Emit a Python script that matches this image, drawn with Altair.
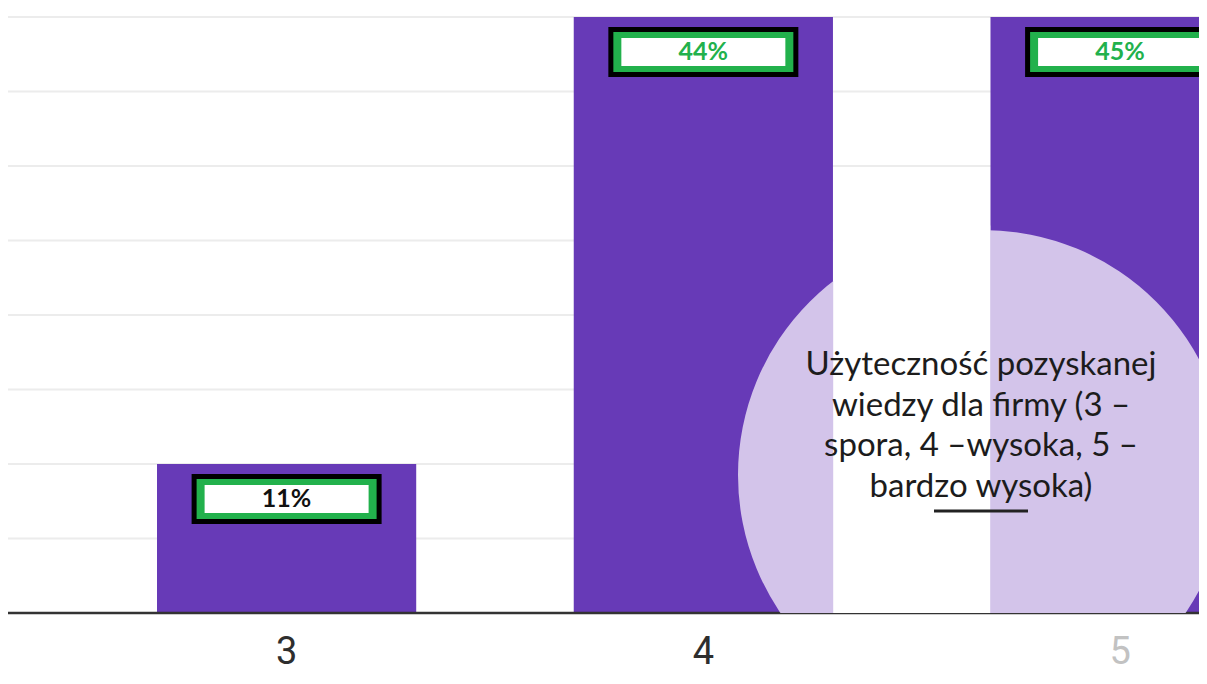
import altair as alt
import pandas as pd

# ---- data ----
ratings = ["3", "4", "5"]
counts = [1, 4, 4]            # bar heights (responses); 1 unit = 2 gridlines
labels = ["11%", "44%", "45%"]
grid_values = [0.5, 1, 1.5, 2, 2.5, 3, 3.5, 4]
title_lines = [
    "Użyteczność pozyskanej",
    "wiedzy dla firmy (3 –",
    "spora, 4 –wysoka, 5 –",
    "bardzo wysoka)",
]

df = pd.DataFrame({"rating": ratings, "count": counts, "label": labels})
grid_df = pd.DataFrame({"g": grid_values})
one = pd.DataFrame({"a": [0]})

W, H = 1191, 605
PURPLE = "#673ab7"
LAVENDER = "#d3c4ea"
GREEN = "#22b14c"

xscale = alt.Scale(domain=ratings, range=[149, 1241.7], paddingInner=0.378, paddingOuter=0,
                   round=False)
yscale = alt.Scale(domain=[0, 4.06], nice=False, zero=True)

x_enc = alt.X("rating:N", scale=xscale, title=None,
              axis=alt.Axis(domain=False, ticks=False, tickSize=0, labelPadding=50,
                            labelBaseline="alphabetic", labelFont="Roboto", labelFontSize=38,
                            labelAngle=0,
                            labelColor=alt.expr("datum.value == '5' ? '#c2c2c2' : '#2e2e2e'")))
y_enc = alt.Y("count:Q", scale=yscale, title=None, axis=None)

grid = alt.Chart(grid_df).mark_rule(color="#ececec", strokeWidth=2).encode(
    y=alt.Y("g:Q", scale=yscale, axis=None), x=alt.value(0), x2=alt.value(W))

bars = alt.Chart(df).mark_bar(color=PURPLE, clip=True).encode(x=x_enc, y=y_enc)

box_black = alt.Chart(df).mark_bar(color="#000000", width=190, yOffset=10, y2Offset=60, clip=True).encode(
    x="rating:N", y="count:Q", y2="count:Q")
box_green = alt.Chart(df).mark_bar(color=GREEN, width=180, yOffset=15, y2Offset=55, clip=True).encode(
    x="rating:N", y="count:Q", y2="count:Q")
box_white = alt.Chart(df).mark_bar(color="#ffffff", width=164, yOffset=21, y2Offset=49, clip=True).encode(
    x="rating:N", y="count:Q", y2="count:Q")
box_text = alt.Chart(df).mark_text(font="Lato", fontWeight="bold", fontSize=25, baseline="middle",
                                   dy=35, clip=True).encode(
    x="rating:N", y="count:Q", text="label:N",
    color=alt.condition("datum.rating == '3'", alt.value("#111111"), alt.value(GREEN)))

baseline = alt.Chart(one).mark_rule(color="#333333", strokeWidth=2.5).encode(
    y=alt.datum(0), x=alt.value(0), x2=alt.value(W))

circle = alt.Chart(one).mark_circle(color=LAVENDER, opacity=1, size=490 * 490, clip=True).encode(
    x=alt.value(975), y=alt.value(467))

gap = alt.Chart(pd.DataFrame({"rating": ["4"]})).mark_bar(color="#ffffff", width=157, xOffset=208.35,
                                                          clip=True).encode(
    x="rating:N", y=alt.datum(2.6), y2=alt.datum(0))

title = alt.Chart(one).mark_text(text=title_lines, font="Lato", fontSize=33, lineHeight=40.7,
                                 align="center", baseline="middle", color="#1c1c1c").encode(
    x=alt.value(973), y=alt.value(357))

underline = alt.Chart(one).mark_rule(color="#222222", strokeWidth=3).encode(
    x=alt.value(926), x2=alt.value(1020), y=alt.value(503))

chart = alt.layer(
    grid, bars, box_black, box_green, box_white, box_text, baseline, circle, gap, title, underline
).properties(
    width=W, height=H,
    autosize=alt.AutoSizeParams(type="none"),
    padding={"left": 0, "top": 0, "right": 0, "bottom": 63},
    background="#ffffff",
).configure_view(stroke=None)

chart.save("out.html", embed_options={"renderer": "svg", "actions": False})
